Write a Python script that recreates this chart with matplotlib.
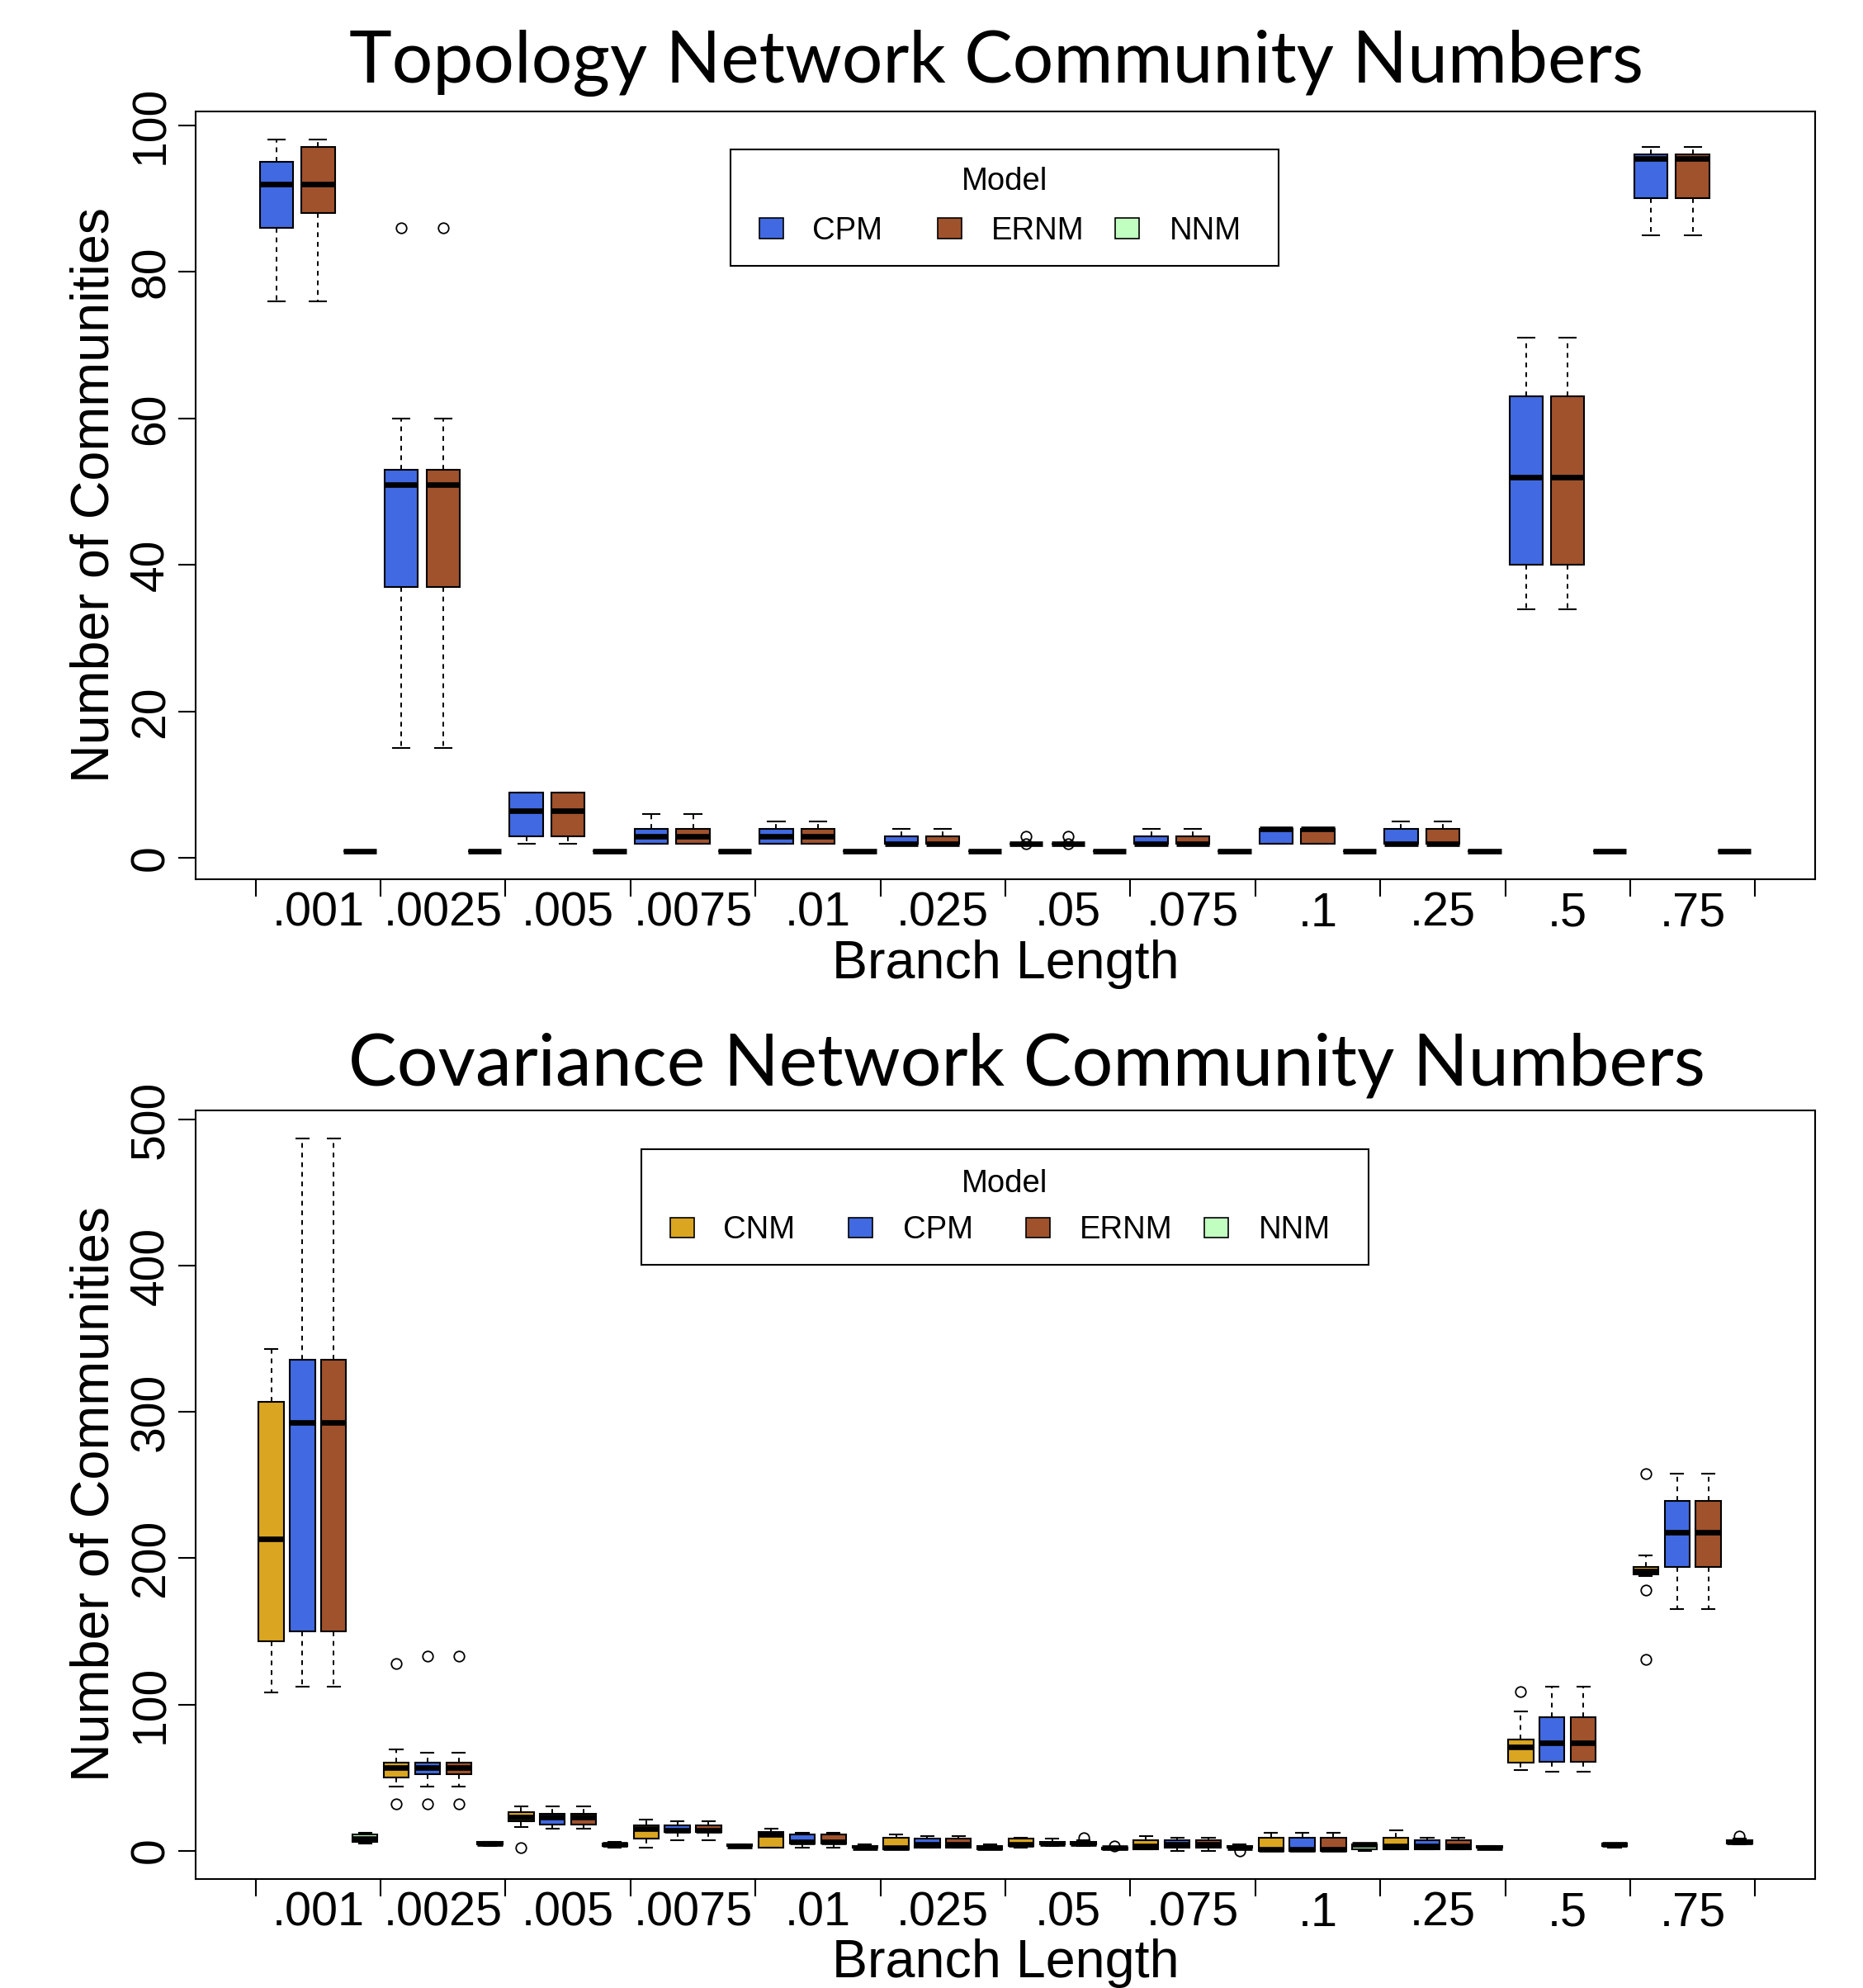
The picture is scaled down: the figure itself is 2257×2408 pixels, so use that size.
import matplotlib
matplotlib.use("Agg")
import matplotlib.pyplot as plt
from matplotlib.patches import Rectangle

W, H, DPI = 2257, 2408, 100

branch_lengths = [".001", ".0025", ".005", ".0075", ".01", ".025",
                  ".05", ".075", ".1", ".25", ".5", ".75"]

colors = {"CNM": "#DAA520", "CPM": "#4169E1", "ERNM": "#A0522D", "NNM": "#C1FFC1"}

# Topology network: [lower whisker, Q1, median, Q3, upper whisker] per branch length
topo_cpm = [[76, 86, 92, 95, 98], [15, 37, 51, 53, 60], [2, 3, 6.5, 9, 9],
            [2, 2, 3, 4, 6], [2, 2, 3, 4, 5], [2, 2, 2, 3, 4],
            [2, 2, 2, 2, 2], [2, 2, 2, 3, 4], [2, 2, 4, 4, 4],
            [2, 2, 2, 4, 5], [34, 40, 52, 63, 71], [85, 90, 95.5, 96, 97]]
topo_cpm_out = [[], [86], [], [], [], [], [2, 3], [], [], [], [], []]

topo_ernm = [[76, 88, 92, 97, 98], [15, 37, 51, 53, 60], [2, 3, 6.5, 9, 9],
             [2, 2, 3, 4, 6], [2, 2, 3, 4, 5], [2, 2, 2, 3, 4],
             [2, 2, 2, 2, 2], [2, 2, 2, 3, 4], [2, 2, 4, 4, 4],
             [2, 2, 2, 4, 5], [34, 40, 52, 63, 71], [85, 90, 95.5, 96, 97]]
topo_ernm_out = [[], [86], [], [], [], [], [2, 3], [], [], [], [], []]

topo_nnm = [[1, 1, 1, 1, 1]] * 12
topo_nnm_out = [[] for _ in range(12)]

# Covariance network
cov_cnm = [[108, 143, 213, 307, 343], [44, 50, 57, 60, 69], [16, 20, 23, 26, 30],
           [2, 8, 15, 17, 21], [2, 2, 11, 13, 15], [1, 1, 2, 9, 11],
           [2, 3, 4, 8, 9], [1, 1, 3, 7, 10], [0, 0, 1, 9, 12],
           [1, 1, 3, 9, 14], [55, 60, 71, 76, 95], [188, 189, 191, 194, 202]]
cov_cnm_out = [[], [128, 32], [2], [], [], [], [], [], [], [], [109], [258, 178, 131]]

cov_cpm = [[112, 150, 293, 336, 487], [44, 52, 57, 60, 67], [15, 18, 23, 25, 30],
           [7, 13, 14, 17, 20], [2, 5, 6, 11, 12], [2, 2, 4, 8, 10],
           [3, 4, 5, 6, 8], [0, 2, 4, 7, 9], [0, 0, 1, 9, 12],
           [1, 1, 3, 7, 9], [54, 61, 74, 91, 112], [165, 194, 218, 239, 258]]
cov_cpm_out = [[], [133, 32], [], [], [], [], [], [], [], [], [], []]

cov_ernm = [[112, 150, 293, 336, 487], [44, 52, 57, 60, 67], [15, 18, 23, 25, 30],
            [7, 13, 14, 17, 20], [2, 5, 6, 11, 12], [2, 2, 4, 8, 10],
            [3, 4, 5, 6, 7], [0, 2, 4, 7, 9], [0, 0, 1, 9, 12],
            [1, 1, 3, 7, 9], [54, 61, 74, 91, 112], [165, 194, 218, 239, 258]]
cov_ernm_out = [[], [133, 32], [], [], [], [], [9], [], [], [], [], []]

cov_nnm = [[5, 6, 8, 11, 12], [3, 4, 5, 6, 6], [2, 3, 4, 5, 6],
           [2, 3, 3, 4, 4], [1, 2, 2, 3, 4], [1, 1, 2, 3, 4],
           [1, 1, 2, 2, 2], [1, 2, 2, 3, 4], [0, 1, 4, 4, 4],
           [1, 2, 2, 3, 3], [2, 3, 4, 5, 5], [4, 5, 6, 7, 8]]
cov_nnm_out = [[], [], [], [], [], [], [3], [0], [], [], [], [10]]

AXIS_FONT = "Liberation Sans"
TITLE_FONT = "Lato"

fig = plt.figure(figsize=(W / DPI, H / DPI), dpi=DPI)


def px_box(left, top, right, bottom):
    return [left / W, 1 - bottom / H, (right - left) / W, (bottom - top) / H]


def fx(x):
    return x / W


def fy(y):
    return 1 - y / H


def draw_panel(ax, series, ylim, yticks):
    n = len(series)
    ngroups = len(branch_lengths)
    for k, (name, five, out) in enumerate(series):
        pos = [g * n + k + 1 for g in range(ngroups)]
        stats = [dict(whislo=f[0], q1=f[1], med=f[2], q3=f[3], whishi=f[4], fliers=o)
                 for f, o in zip(five, out)]
        ax.bxp(stats, positions=pos, widths=0.8, capwidths=0.4,
               patch_artist=True, showfliers=True, manage_ticks=False,
               boxprops=dict(facecolor=colors[name], edgecolor="black", linewidth=1.5),
               medianprops=dict(color="black", linewidth=4.8, solid_capstyle="butt"),
               whiskerprops=dict(color="black", linewidth=1.4, linestyle=(0, (3, 3))),
               capprops=dict(color="black", linewidth=1.5),
               flierprops=dict(marker="o", markerfacecolor="none", markeredgecolor="black",
                               markersize=9, markeredgewidth=1.3, linestyle="none"))
    total = n * ngroups
    ax.set_xlim(0.5 - 0.04 * total, total + 0.5 + 0.04 * total)
    ax.set_ylim(*ylim)
    ax.set_xticks([g * n + 0.5 for g in range(ngroups + 1)])
    ax.set_xticklabels([])
    ax.set_xticks([g * n + 0.5 + n / 2 for g in range(ngroups)], minor=True)
    ax.set_xticklabels(branch_lengths, minor=True, fontfamily=AXIS_FONT, fontsize=41.5)
    ax.tick_params(axis="x", which="major", length=15, width=1.5, direction="out")
    ax.tick_params(axis="x", which="minor", length=0, pad=10.5)
    ax.set_yticks(yticks)
    ax.set_yticklabels([str(t) for t in yticks], fontfamily=AXIS_FONT, fontsize=41,
                       rotation=90, va="center")
    ax.tick_params(axis="y", length=15, width=1.5, direction="out", pad=4)
    for sp in ax.spines.values():
        sp.set_linewidth(1.5)


ax1 = fig.add_axes(px_box(237, 135, 2199, 1065))
draw_panel(ax1, [("CPM", topo_cpm, topo_cpm_out),
                 ("ERNM", topo_ernm, topo_ernm_out),
                 ("NNM", topo_nnm, topo_nnm_out)],
           (-2.88, 101.88), [0, 20, 40, 60, 80, 100])

ax2 = fig.add_axes(px_box(237, 1345, 2199, 2276))
draw_panel(ax2, [("CNM", cov_cnm, cov_cnm_out),
                 ("CPM", cov_cpm, cov_cpm_out),
                 ("ERNM", cov_ernm, cov_ernm_out),
                 ("NNM", cov_nnm, cov_nnm_out)],
           (-19.48, 506.48), [0, 100, 200, 300, 400, 500])

# Axis labels
for cy in (600, 1810):
    fig.text(fx(115), fy(cy), "Number of Communities", rotation=90, ha="center",
             va="center", fontfamily=AXIS_FONT, fontsize=46.5)
for cy in (1168, 2378):
    fig.text(fx(1218), fy(cy), "Branch Length", ha="center", va="center",
             fontfamily=AXIS_FONT, fontsize=46.5)

# Panel titles, sized to span their target widths
titles = [("Topology Network Community Numbers", 1207, 100, 1569),
          ("Covariance Network Community Numbers", 1244, 1314, 1643)]
title_artists = []
for txt, cx, base, width in titles:
    t = fig.text(fx(cx), fy(base), txt, ha="center", va="baseline",
                 fontfamily=TITLE_FONT, fontsize=70)
    title_artists.append((t, width))
fig.canvas.draw()
renderer = fig.canvas.get_renderer()
for t, width in title_artists:
    bb = t.get_window_extent(renderer=renderer)
    t.set_fontsize(70 * width / bb.width)


def draw_legend(box, title_base, item_center, items, sq_w, sq_h):
    left, top, right, bottom = box
    fig.add_artist(Rectangle((fx(left), fy(bottom)), (right - left) / W, (bottom - top) / H,
                             transform=fig.transFigure, facecolor="white",
                             edgecolor="black", linewidth=1.5, zorder=5))
    fig.text(fx((left + right) / 2), fy(title_base), "Model", ha="center", va="baseline",
             fontfamily=AXIS_FONT, fontsize=27.5, zorder=6)
    for name, sq_x, txt_x in items:
        fig.add_artist(Rectangle((fx(sq_x), fy(item_center + sq_h / 2)), sq_w / W, sq_h / H,
                                 transform=fig.transFigure, facecolor=colors[name],
                                 edgecolor="black", linewidth=1.2, zorder=6))
        fig.text(fx(txt_x), fy(item_center + 13.5), name, ha="left", va="baseline",
                 fontfamily=AXIS_FONT, fontsize=27.5, zorder=6)


draw_legend((885, 181, 1549, 322), 230, 276,
            [("CPM", 920, 984), ("ERNM", 1136, 1201), ("NNM", 1351, 1417)], 29, 25)
draw_legend((777, 1392, 1658, 1532), 1443.5, 1487,
            [("CNM", 812, 876), ("CPM", 1028, 1094), ("ERNM", 1243, 1308),
             ("NNM", 1459, 1525)], 29, 24)

fig.savefig("out.png", dpi=DPI)
